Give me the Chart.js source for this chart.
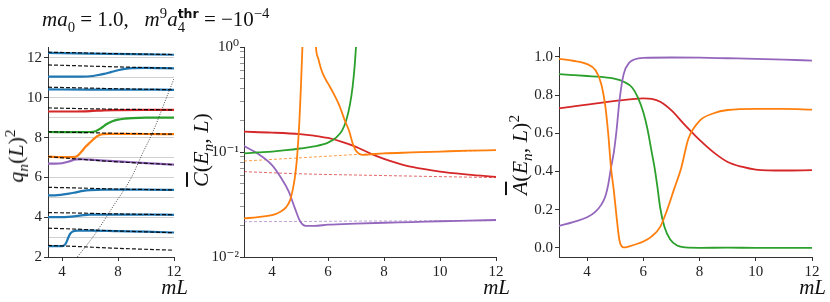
<!DOCTYPE html>
<html><head><meta charset="utf-8">
<script src="https://cdn.jsdelivr.net/npm/chart.js@4"></script>
<style>
html,body{margin:0;padding:0;background:#fff;}
#wrap{position:relative;width:830px;height:302px;overflow:hidden;font-family:'Liberation Serif','DejaVu Serif',serif;color:#111;}
canvas{position:absolute;top:0;}
.lbl{position:absolute;white-space:nowrap;font-size:20px;line-height:1;}
.big{font-size:22px;}
.rot{transform:translate(-50%,-50%) rotate(-90deg);}
.xl{transform:translate(-100%,-50%);}
i{font-style:italic;}
sub,sup{font-size:70%;line-height:0;}
.ss{display:inline-block;vertical-align:-0.38em;line-height:0.95;font-size:70%;text-align:left;}
.thr{font-family:'DejaVu Sans',sans-serif;font-weight:bold;font-size:85%;}
.ov{text-decoration:overline;}
</style></head><body>
<div id="wrap">
<canvas id="c1" width="190" height="302" style="left:0"></canvas>
<canvas id="c2" width="330" height="302" style="left:190px"></canvas>
<canvas id="c3" width="310" height="302" style="left:520px"></canvas>
<div class="lbl" style="left:42px;top:7px;font-size:21px;"><i>ma</i><sub>0</sub> = 1.0, &nbsp;&nbsp;<i>m</i><sup>9</sup><i>a</i><span class="ss"><span class="thr">thr</span><br>4</span> = −10<sup>−4</sup></div>
<div class="lbl big rot" style="left:16px;top:156px;"><i>q<sub>n</sub></i>(<i>L</i>)<sup>2</sup></div>
<div class="lbl big rot" style="left:201px;top:150px;"><span class="ov"><i>C</i></span>(<i>E<sub>n</sub></i>, <i>L</i>)</div>
<div class="lbl big rot" style="left:520px;top:155px;"><span class="ov"><i>A</i></span>(<i>E<sub>n</sub></i>, <i>L</i>)<sup>2</sup></div>
<div class="lbl xl" style="left:188px;top:287px;font-size:21px;"><i>mL</i></div>
<div class="lbl xl" style="left:510px;top:287px;font-size:21px;"><i>mL</i></div>
<div class="lbl xl" style="left:826px;top:287px;font-size:21px;"><i>mL</i></div>
</div>
<script>
// ---------- tick labels ----------
const xTicks1 = [4, 8, 12];
const xTicks23 = [4, 6, 8, 10, 12];
const qGridLevels = [2,3,4,5,6,7,8,9,10,11,12];
const qTickLabels = [2,4,6,8,10,12];
const logMajor = [0.01, 0.1, 1];
const logMajorLabels = ['10\u207B\u00B2', '10\u207B\u00B9', '10\u2070'];
const logMinorMult = [2,3,4,5,6,7,8,9];
const aTicks = [0, 0.2, 0.4, 0.6, 0.8, 1.0];

// ---------- panel 1 : q_n(L)^2 ----------
const L_B1 = [3,4.0,4.15,4.3,4.45,4.6,4.8,5.1,6,8,10,12];
const q_B1 = [2.55,2.55,2.58,2.72,2.98,3.18,3.29,3.33,3.33,3.3,3.27,3.23];
const L_B2 = [3,4,5,5.5,6,8,10,12];
const q_B2 = [4.0,4.0,4.05,4.1,4.13,4.13,4.13,4.12];
const L_B3 = [3,3.5,4,4.5,5,5.5,6,7,8,10,12];
const q_B3 = [5.1,5.1,5.13,5.18,5.25,5.32,5.36,5.38,5.38,5.38,5.37];
const L_P1 = [3,3.5,4,4.5,5,5.5,6,8,10,12];
const q_P1 = [6.69,6.69,6.71,6.8,6.9,6.91,6.89,6.8,6.72,6.64];
const L_O1 = [3,4,4.8,5.1,5.4,5.7,6,6.3,6.6,6.9,7.3,8,10,12];
const q_O1 = [7.04,7.02,7.02,7.08,7.3,7.55,7.75,7.95,8.1,8.17,8.19,8.19,8.18,8.17];
const L_G1 = [3,5,6,6.4,6.8,7.2,7.6,8,8.5,9,10,12];
const q_G1 = [8.28,8.27,8.28,8.32,8.48,8.68,8.82,8.9,8.95,8.98,9.0,9.0];
const L_R1 = [3,5,6,7,8,10,12];
const q_R1 = [9.31,9.31,9.33,9.37,9.38,9.39,9.39];
const L_B4 = [3,6,9,12];
const q_B4 = [10.42,10.41,10.41,10.40];
const L_B5 = [3,5,6,6.5,7,7.5,8,8.5,9,10,12];
const q_B5 = [11.06,11.06,11.08,11.13,11.2,11.29,11.38,11.45,11.49,11.5,11.48];
const L_B6 = [3,6,9,12];
const q_B6 = [12.25,12.22,12.19,12.16];

const L_D = [3,5,7.5,12];
const q_D1 = [2.58,2.53,2.45,2.34];
const q_D2 = [3.45,3.40,3.32,3.22];
const q_D3 = [4.23,4.21,4.17,4.12];
const q_D4 = [5.5,5.47,5.42,5.37];
const q_D5 = [7.04,6.93,6.8,6.64];
const q_D6 = [8.29,8.26,8.22,8.17];
const q_D7 = [9.49,9.46,9.43,9.39];
const q_D8 = [10.53,10.5,10.46,10.40];
const q_D9 = [11.65,11.61,11.56,11.48];
const q_D10 = [12.29,12.26,12.22,12.17];

const L_thr = [5.1,6.2,7.16,7.7,8.5,9.0,9.75,10.5,11.46,12];
const q_thr = [2.0,3.0,4.0,4.6,5.45,6.05,7.2,8.3,10.0,10.95];

// ---------- panel 2 : C(E_n, L) ----------
const L_C_red = [3,4,5,5.5,6,6.5,7,7.5,8,8.5,9,10,11,12];
const C_red = [0.156,0.153,0.148,0.143,0.136,0.125,0.112,0.097,0.086,0.078,0.072,0.065,0.061,0.058];
const L_C_orange = [3,3.5,4,4.3,4.5,4.65,4.75,4.82,4.88,4.93,4.98,5.03,5.08,5.15,5.3,5.5,5.57,5.65,5.75,5.85,6.0,6.2,6.4,6.6,6.75,6.9,7.0,7.1,7.25,7.5,8,9,10,11,12];
const C_orange = [0.0233,0.024,0.025,0.027,0.0297,0.035,0.045,0.058,0.08,0.12,0.2,0.4,0.9,3,null,3,1.0,0.78,0.62,0.53,0.45,0.36,0.28,0.2,0.16,0.117,0.103,0.097,0.094,0.095,0.097,0.099,0.101,0.103,0.104];
const L_C_green = [3,3.5,4,4.5,5,5.5,6,6.3,6.5,6.65,6.78,6.88,6.95,7.0,7.05];
const C_green = [0.097,0.099,0.101,0.104,0.108,0.113,0.123,0.138,0.16,0.2,0.28,0.42,0.65,1.0,1.5];
const L_C_purple = [3,3.5,4,4.3,4.6,4.8,5.0,5.2,5.5,6,7,8,9,10,11,12];
const C_purple = [0.114,0.096,0.075,0.058,0.042,0.03,0.022,0.0198,0.0198,0.0203,0.0208,0.0212,0.0215,0.0219,0.0222,0.0225];
const L_C_dash = [3,5,7.5,12];
const C_red_dash = [0.065,0.062,0.06,0.057];
const C_orange_dash = [0.082,0.088,0.096,0.104];
const C_purple_dash = [0.0217,0.0218,0.022,0.0222];

// ---------- panel 3 : A(E_n, L)^2 ----------
const L_A_orange = [3,3.5,4,4.3,4.5,4.65,4.75,4.85,4.95,5.05,5.15,5.3,5.5,6,6.3,6.6,6.85,7.1,7.35,7.6,8,8.5,9,10,11,12];
const A_orange = [0.99,0.98,0.962,0.93,0.86,0.74,0.6,0.42,0.3,0.16,0.04,0.002,0.008,0.033,0.06,0.11,0.2,0.31,0.42,0.57,0.665,0.705,0.722,0.728,0.728,0.724];
const L_A_green = [3,3.5,4,4.5,5,5.3,5.6,5.8,6.0,6.15,6.3,6.4,6.5,6.6,6.75,6.95,7.2,7.5,8,9,10,11,12];
const A_green = [0.91,0.905,0.9,0.895,0.885,0.87,0.84,0.79,0.71,0.62,0.5,0.42,0.32,0.21,0.11,0.045,0.012,0.002,0.0,0.001,0.0,0.0,0.0];
const L_A_purple = [3,3.5,4,4.3,4.5,4.65,4.75,4.85,4.95,5.05,5.15,5.3,5.5,5.7,6,7,8,9,10,11,12];
const A_purple = [0.115,0.135,0.16,0.19,0.225,0.27,0.33,0.42,0.5,0.62,0.77,0.91,0.97,0.988,0.995,0.997,0.996,0.993,0.99,0.986,0.981];
const L_A_red = [3,4,5,5.5,6,6.3,6.6,7,7.5,8,8.5,9,9.5,10,11,12];
const A_red = [0.73,0.75,0.77,0.778,0.783,0.78,0.765,0.72,0.64,0.565,0.5,0.45,0.425,0.41,0.405,0.407];

// ---------- styling ----------
const BLUE='#1f77b4', ORANGE='#ff7f0e', GREEN='#2ca02c', RED='#d62728', PURPLE='#9467bd';
const tickFont = {family:"'Liberation Serif','DejaVu Serif',serif", size:15};
const AX='#333';

function ds(xs, ys, color, width, dash){
  return {data: xs.map((x,i)=>({x:x, y:ys[i]})), borderColor:color, borderWidth:width,
    borderDash: dash||[], pointRadius:0, pointHoverRadius:0, fill:false,
    cubicInterpolationMode:'monotone', spanGaps:false};
}
function xScale(ticksArr){
  return {type:'linear', min:3, max:12,
    afterBuildTicks: s => { s.ticks = ticksArr.map(v=>({value:v})); },
    afterFit: s => { s.height = 45; },
    grid:{drawOnChartArea:false, tickLength:4, tickColor:AX},
    border:{display:true, color:AX, width:1},
    ticks:{font:tickFont, color:'#222', padding:2, maxRotation:0, autoSkip:false}};
}
function baseOpts(pad, scales){
  return {responsive:false, maintainAspectRatio:false, animation:false, devicePixelRatio:1,
    layout:{padding:pad}, plugins:{legend:{display:false}, tooltip:{enabled:false}},
    events:[], scales:scales};
}

// panel 1
const dash1 = [4,2];
const K = 'rgba(0,0,0,0.9)';
new Chart(document.getElementById('c1'), {type:'line', data:{datasets:[
  ds(L_thr,q_thr,'rgba(0,0,0,0.8)',0.9,[1,1.5]),
  ds(L_D,q_D1,K,1.2,dash1), ds(L_D,q_D2,K,1.2,dash1), ds(L_D,q_D3,K,1.2,dash1),
  ds(L_D,q_D4,K,1.2,dash1), ds(L_D,q_D5,K,1.2,dash1), ds(L_D,q_D6,K,1.2,dash1),
  ds(L_D,q_D7,K,1.2,dash1), ds(L_D,q_D8,K,1.2,dash1), ds(L_D,q_D9,K,1.2,dash1),
  ds(L_D,q_D10,K,1.2,dash1),
  ds(L_B1,q_B1,BLUE,2.2), ds(L_B2,q_B2,BLUE,2.2), ds(L_B3,q_B3,BLUE,2.2),
  ds(L_P1,q_P1,PURPLE,2.2), ds(L_O1,q_O1,ORANGE,2.2), ds(L_G1,q_G1,GREEN,2.2),
  ds(L_R1,q_R1,RED,2.2), ds(L_B4,q_B4,BLUE,2.2), ds(L_B5,q_B5,BLUE,2.2), ds(L_B6,q_B6,BLUE,2.2)
]}, options: baseOpts({top:47,right:16,left:0,bottom:0}, {
  x: xScale(xTicks1),
  y: {type:'linear', min:2, max:12.55,
    afterBuildTicks: s => { s.ticks = qGridLevels.map(v=>({value:v})); },
    afterFit: s => { s.width = 48; },
    grid:{color:'#d0d0d0', lineWidth:1, tickLength:4,
      tickColor: c => (c.tick && qTickLabels.includes(c.tick.value)) ? AX : 'rgba(0,0,0,0)'},
    border:{display:true, color:AX, width:1},
    ticks:{font:tickFont, color:'#222', padding:2, autoSkip:false,
      callback: v => qTickLabels.includes(v) ? String(v) : ''}}
})});

// panel 2
const logTicks = [];
logMajor.forEach((m,i)=>{ logTicks.push({value:m, major:true}); if (i<logMajor.length-1) logMinorMult.forEach(k=>logTicks.push({value:+(m*k).toPrecision(3), major:false})); });
const dash2 = [3,2];
new Chart(document.getElementById('c2'), {type:'line', data:{datasets:[
  ds(L_C_orange,C_orange,ORANGE,1.8),
  ds(L_C_green,C_green,GREEN,1.8),
  ds(L_C_purple,C_purple,PURPLE,1.8),
  ds(L_C_red,C_red,RED,1.8),
  ds(L_C_dash,C_orange_dash,'rgba(255,127,14,0.75)',1,dash2),
  ds(L_C_dash,C_red_dash,'rgba(214,39,40,0.7)',1,dash2),
  ds(L_C_dash,C_purple_dash,'rgba(148,103,189,0.6)',1,dash2)
]}, options: baseOpts({top:47,right:24,left:0,bottom:0}, {
  x: xScale(xTicks23),
  y: {type:'logarithmic', min:0.01, max:1,
    afterBuildTicks: s => { s.ticks = logTicks.map(t=>({value:t.value, major:t.major})); },
    afterFit: s => { s.width = 54; },
    grid:{drawOnChartArea:false, tickLength:4,
      tickColor: c => (c.tick && c.tick.major) ? AX : '#666',
      tickWidth: c => (c.tick && c.tick.major) ? 1 : 0.7},
    border:{display:true, color:AX, width:1},
    ticks:{font:tickFont, color:'#222', padding:1, autoSkip:false,
      callback: v => { const i = logMajor.findIndex(m => Math.abs(m-v) < 1e-9); return i>=0 ? logMajorLabels[i] : ''; }}}
})});

// panel 3
new Chart(document.getElementById('c3'), {type:'line', data:{datasets:[
  ds(L_A_orange,A_orange,ORANGE,1.8),
  ds(L_A_purple,A_purple,PURPLE,1.8),
  ds(L_A_green,A_green,GREEN,1.8),
  ds(L_A_red,A_red,RED,1.8)
]}, options: baseOpts({top:47,right:18,left:0,bottom:0}, {
  x: xScale(xTicks23),
  y: {type:'linear', min:-0.048, max:1.052,
    afterBuildTicks: s => { s.ticks = aTicks.map(v=>({value:v})); },
    afterFit: s => { s.width = 39; },
    grid:{drawOnChartArea:false, tickLength:4, tickColor:AX},
    border:{display:true, color:AX, width:1},
    ticks:{font:tickFont, color:'#222', padding:2, autoSkip:false,
      callback: v => v.toFixed(1)}}
})});
</script>
</body></html>
